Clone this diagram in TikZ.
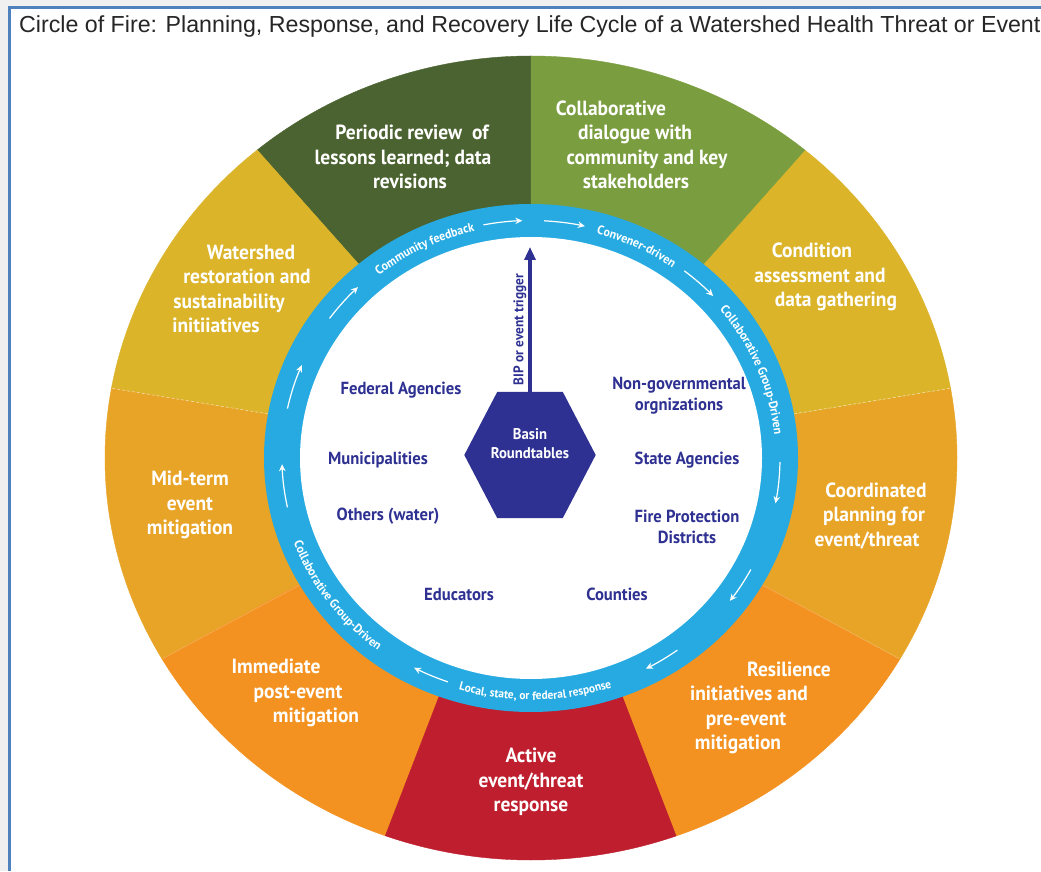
\documentclass[tikz,border=0pt]{standalone}
\usepackage{fontspec}
\setmainfont{Liberation Sans}
\newfontfamily\labfont[FakeStretch=0.95]{PT Sans}
\usetikzlibrary{arrows.meta,decorations.text,calc}
\definecolor{dkgreen}{HTML}{4B6330}
\definecolor{ltgreen}{HTML}{7A9D3F}
\definecolor{yel}{HTML}{DBB42A}
\definecolor{oryel}{HTML}{E8A426}
\definecolor{orng}{HTML}{F39220}
\definecolor{fire}{HTML}{BE1E2D}
\definecolor{ringblue}{HTML}{27AAE1}
\definecolor{navy}{HTML}{2E3192}
\definecolor{framecol}{HTML}{4F81BD}
\definecolor{bggray}{HTML}{F0F0F0}
\newcommand{\sh}[2]{\hspace*{#1pt}#2}
\newcommand{\ringfont}{\labfont\bfseries\fontsize{12.5}{12.5}\selectfont}
\newcommand{\ringfontsm}{\labfont\bfseries\fontsize{12}{12}\selectfont}
\begin{document}
\begin{tikzpicture}[x=1pt,y=1pt,
  seclabel/.style={text=white, font=\labfont\bfseries\fontsize{20.5}{24.4}\selectfont, align=center, inner sep=0pt},
  member/.style={text=navy, font=\labfont\bfseries\fontsize{17.5}{21}\selectfont, align=center, inner sep=0pt},
  ringarrow/.style={draw=white, line width=1.2pt, -{Stealth[length=7pt,width=6.5pt]}},
  ringtext/.style={decorate, decoration={text along path, text align=center, text color=white}},
  sector/.style={fill=#1, draw=#1, line width=0.4pt},
]
\useasboundingbox (0,0) rectangle (1041,871);
\fill[bggray] (0,0) rectangle (1041,871);
\fill[white] (9.5,0) rectangle (1041,863.5);
\draw[framecol, line width=3pt] (9.5,0) -- (9.5,863.5) -- (1041,863.5);
\node[anchor=base west, font=\fontsize{23.2}{27}\selectfont, text=black!85, inner sep=0pt] (title) at (19,838)
  {Circle of Fire: Planning, Response, and Recovery Life Cycle of a Watershed Health Threat or Event};

\begin{scope}[shift={(531,413)}]
  \foreach \a/\b/\c in {90/130/dkgreen, 130/170/yel, 170/210/oryel, 210/250/orng, 250/290/fire, 290/330/orng, 330/370/oryel, 10/50/yel, 50/90/ltgreen}
    \path[sector=\c] (0,0) -- (\a:426pt and 402pt) arc[start angle=\a, end angle=\b, x radius=426pt, y radius=402pt] -- cycle;
  \foreach \a in {10,170}
    \draw[white, opacity=0.6, line width=0.6pt, dash pattern=on 3pt off 2pt] (\a:267pt and 254pt) -- (\a:425pt and 401pt);
  \foreach \a in {210,330}
    \draw[white, opacity=0.25, line width=0.6pt] (\a:267pt and 254pt) -- (\a:425pt and 401pt);
  \fill[ringblue] (0,0) ellipse [x radius=267pt, y radius=254pt];
  \fill[white] (0,0) ellipse [x radius=231pt, y radius=221pt];
  % ring arrows (clockwise flow)
  \foreach \s/\e in {101/92, 87/77.5, 52/43, -1/-11, -28/-37, -54/-62.5, 250.5/242, 192/181.5, 168/157, 144/134}
    \draw[ringarrow] (\s:249pt and 237.5pt) arc[start angle=\s, end angle=\e, x radius=249pt, y radius=237.5pt];
  % ring texts
  \path[ringtext, decoration={text={|\ringfont|Community feedback}}]
    (138:244.5pt and 233pt) arc[start angle=138, end angle=94, x radius=244.5pt, y radius=233pt];
  \path[ringtext, decoration={text={|\ringfont|Convener-driven}}]
    (82:244.5pt and 233pt) arc[start angle=82, end angle=47, x radius=244.5pt, y radius=233pt];
  \path[ringtext, decoration={text={|\ringfont|Collaborative Group-Driven}}]
    (48:244.5pt and 233pt) arc[start angle=48, end angle=-3, x radius=244.5pt, y radius=233pt];
  \path[ringtext, decoration={text={|\ringfont|Collaborative Group-Driven}}]
    (190:253.5pt and 242pt) arc[start angle=190, end angle=243, x radius=253.5pt, y radius=242pt];
  \path[ringtext, decoration={text={|\ringfontsm|Local, state, or federal response}}]
    (242:253.5pt and 242pt) arc[start angle=242, end angle=300, x radius=253.5pt, y radius=242pt];
\end{scope}

% sector labels
\node[seclabel] (periodic) at (408,714) {\sh{8}{Periodic review\ \ of}\\\sh{-10}{lessons learned; data}\\\sh{4}{revisions}};
\node[seclabel] (dialogue) at (632,726) {\sh{-42}{Collaborative}\\\sh{6}{dialogue with}\\\sh{30}{community and key}\\\sh{8}{stakeholders}};
\node[seclabel] (condition) at (823,594) {\sh{-22}{Condition}\\\sh{-6}{assessment and}\\\sh{26}{data gathering}};
\node[seclabel] (coordinated) at (872,355) {\sh{8}{Coordinated}\\\sh{4}{planning for}\\\sh{-10}{event/threat}};
\node[seclabel] (resilience) at (755,163) {\sh{68}{Resilience}\\\sh{-12}{initiatives and}\\\sh{-18}{pre-event}\\\sh{-34}{mitigation}};
\node[seclabel] (active) at (531,89) {Active\\event/threat\\response};
\node[seclabel] (immediate) at (297,178) {\sh{-42}{Immediate}\\\sh{2}{post-event}\\\sh{38}{mitigation}};
\node[seclabel] (midterm) at (190,366) {Mid-term\\event\\mitigation};
\node[seclabel] (watershed) at (236,582) {\sh{30}{Watershed}\\\sh{22}{restoration and}\\\sh{-14}{sustainability}\\\sh{-40}{initiiatives}};

% member labels
\node[member] (federal) at (401,481) {Federal Agencies};
\node[member] (ngo) at (679,475.5) {Non-governmental\\orgnizations};
\node[member] (muni) at (378,411) {Municipalities};
\node[member] (state) at (687,411) {State Agencies};
\node[member] (others) at (388,355) {Others (water)};
\node[member] (fire) at (687,344) {Fire Protection\\Districts};
\node[member] (educ) at (459,277) {Educators};
\node[member] (counties) at (617,277) {Counties};

% hexagon
\node[minimum width=131pt, minimum height=126pt, inner sep=0pt] (hex) at (530,416) {};
\fill[navy] (hex.west) -- ([xshift=33pt]hex.north west) -- ([xshift=-33pt]hex.north east) -- (hex.east)
  -- ([xshift=-33pt]hex.south east) -- ([xshift=33pt]hex.south west) -- cycle;
\node[text=white, font=\labfont\bfseries\fontsize{15.5}{19}\selectfont, align=center, inner sep=0pt] (basin) at (530,427) {Basin\\Roundtables};
\coordinate (bipTop) at (530,624);
\draw[navy, line width=3.5pt, -{Triangle[length=13pt,width=11pt]}] (hex.north) -- node[pos=0.43, rotate=90, anchor=south, inner sep=2pt, text=navy, font=\labfont\bfseries\fontsize{14}{14}\selectfont] (bip) {BIP or event trigger} (bipTop);
\end{tikzpicture}
\end{document}
